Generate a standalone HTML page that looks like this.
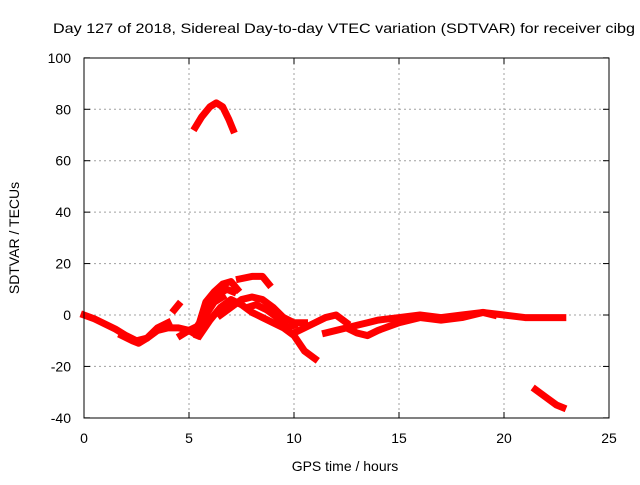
<!DOCTYPE html>
<html><head><meta charset="utf-8"><style>
body{margin:0;background:#fff;}
svg text{font-family:"Liberation Sans",sans-serif;font-size:14px;fill:#000;}
</style></head><body>
<svg width="640" height="480" id="c">
<text x="53" y="33" textLength="582" lengthAdjust="spacingAndGlyphs">Day 127 of 2018, Sidereal Day-to-day VTEC variation (SDTVAR) for receiver cibg</text>
<text x="345" y="471" text-anchor="middle">GPS time / hours</text>
<text transform="translate(19,238) rotate(-90)" text-anchor="middle">SDTVAR / TECUs</text>
<g id="grid"></g>
<g id="marks"></g>
<rect x="84" y="58" width="525" height="360" fill="none" stroke="#000"/>
</svg>
<script>
const xTicks=[0,5,10,15,20,25];
const yTicks=[-40,-20,0,20,40,60,80,100];
const s1=[[0,0],[0.5,-1.5],[1,-3.5],[1.5,-5.5],[2,-8],[2.5,-10],[3,-9],[3.5,-6],[4,-5],[4.5,-5],[5,-6],[5.3,-7]];
const s2=[[1.8,-8],[2.3,-10],[2.6,-11],[3,-9],[3.5,-5],[4,-3]];
const s3=[[5.2,-7],[5.5,-3],[5.8,5],[6.2,9],[6.6,12],[7,13],[7.3,10]];
const s3b=[[5.4,-8],[5.7,-2],[6,4],[6.4,8],[6.8,10],[7.1,9]];
const s3c=[[4.6,-8],[5,-6],[5.5,-4],[5.8,0],[6.2,5],[6.6,7]];
const s4=[[5.5,-8],[6,-2],[6.5,3],[7,6],[7.5,4],[8,1],[8.5,-1],[9,-3],[9.5,-5],[10,-8],[10.5,-14],[11,-17]];
const s5=[[6.5,0],[7,3],[7.5,6],[8,7],[8.5,6],[9,3],[9.5,-1],[10,-3],[10.5,-3]];
const s5b=[[7.8,3],[8.2,4],[8.7,2],[9.2,-1],[9.7,-5],[10,-4]];
const s6=[[7.4,14],[8,15],[8.5,15],[8.8,12]];
const s7=[[5.3,73],[5.6,77],[6,81],[6.3,82.5],[6.6,81],[6.9,76],[7.1,72]];
const s8=[[10,-7],[10.5,-5],[11,-3],[11.5,-1],[12,0],[12.5,-3]];
const s9=[[11.5,-7],[12,-6],[12.5,-5],[13,-4],[13.5,-3],[14,-2],[15,-1],[16,0],[17,-1],[18,0],[19,1],[20,0],[21,-1],[22,-1],[22.8,-1]];
const s10=[[12.5,-5],[13,-7],[13.5,-8],[14,-6],[15,-3],[16,-1],[17,-2],[18,-1],[19,1],[19.5,0]];
const s11=[[21.5,-29],[22,-32],[22.5,-35],[22.8,-36]];
const s12=[[4.3,2],[4.5,4]];
const series=[s1,s2,s3,s3b,s3c,s4,s5,s5b,s6,s7,s8,s9,s10,s11,s12];
const X=v=>84+v*21, Y=v=>315-v*360/140;
const NS="http://www.w3.org/2000/svg", g=document.getElementById('grid'), m=document.getElementById('marks');
function mk(t,a,p){const e=document.createElementNS(NS,t);for(const k in a)e.setAttribute(k,a[k]);p.appendChild(e);return e;}
xTicks.forEach(t=>{
 if(t>0&&t<25){const l=mk('line',{x1:X(t),x2:X(t),y1:58,y2:418,stroke:'#a0a0a0','stroke-dasharray':'2,3'},g);}
 const a=mk('line',{x1:X(t),x2:X(t),y1:418,y2:412,stroke:'#000'},g);
 const b=mk('line',{x1:X(t),x2:X(t),y1:58,y2:64,stroke:'#000'},g);
 const tx=mk('text',{x:X(t),y:443,'text-anchor':'middle'},g);tx.textContent=t;
});
yTicks.forEach(t=>{
 if(t>-40&&t<100){const l=mk('line',{x1:84,x2:609,y1:Y(t),y2:Y(t),stroke:'#a0a0a0','stroke-dasharray':'2,3'},g);}
 const a=mk('line',{x1:84,x2:90,y1:Y(t),y2:Y(t),stroke:'#000'},g);
 const b=mk('line',{x1:603,x2:609,y1:Y(t),y2:Y(t),stroke:'#000'},g);
 const tx=mk('text',{x:71,y:Y(t)+5,'text-anchor':'end'},g);tx.textContent=t;
});
series.forEach(s=>{
 const p=mk('polyline',{points:s.map(d=>X(d[0])+','+Y(d[1])).join(' '),fill:'none',stroke:'#f00','stroke-width':7,'stroke-linejoin':'round','stroke-linecap':'square'},m);
 
 
});
</script>
</body></html>
